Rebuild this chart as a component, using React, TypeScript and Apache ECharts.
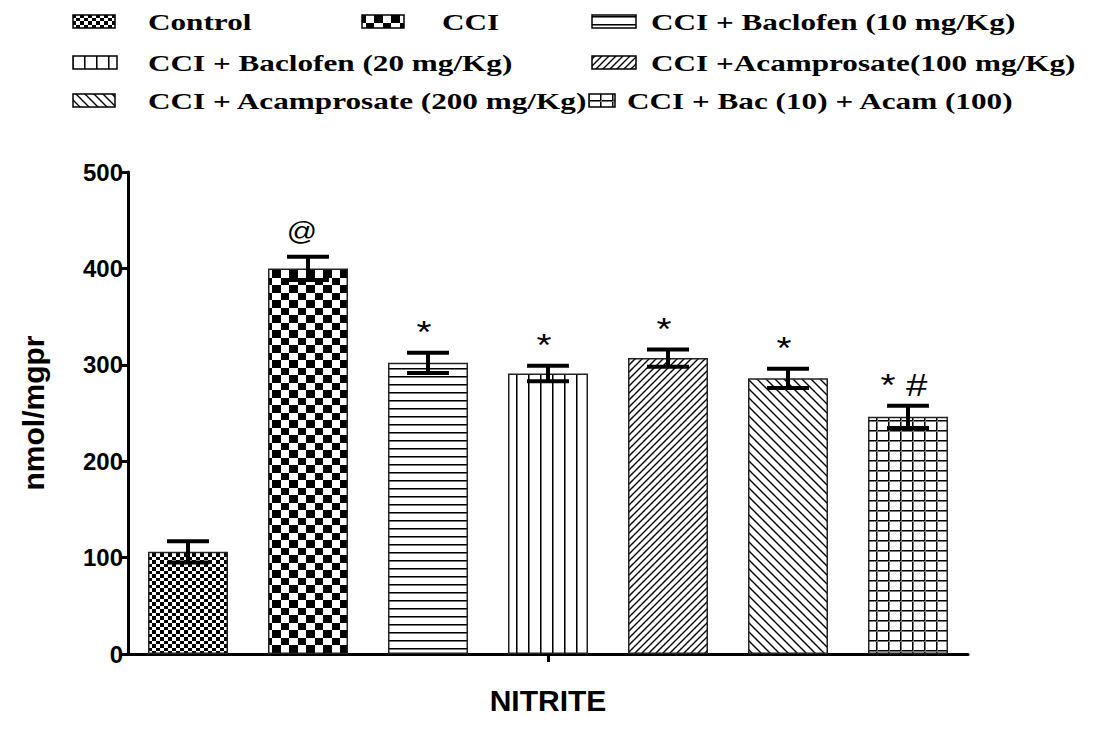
import React, { useEffect, useRef } from "react";
import * as echarts from "echarts";

const groups = [
  "Control",
  "CCI",
  "CCI + Baclofen (10 mg/Kg)",
  "CCI + Baclofen (20 mg/Kg)",
  "CCI +Acamprosate(100 mg/Kg)",
  "CCI + Acamprosate (200 mg/Kg)",
  "CCI + Bac (10) + Acam (100)",
];
const means = [106, 400, 302, 291, 307, 286, 246];
const sems = [11, 12, 10.5, 8, 9, 10, 11.5];
const marks = ["", "@", "*", "*", "*", "*", "* #"];
const patternKinds = ["fineChecker", "checker", "hlines", "vlines", "fdiag", "bdiag", "grid"];
const yTicks = [0, 100, 200, 300, 400, 500];
const xTitle = "NITRITE";
const yTitle = "nmol/mgpr";

// legend layout: [iconX, iconY, iconW, textX, rowCenterY]
const legendPos = [
  [73, 15, 42, 148, 22],
  [362, 15, 42, 442, 22],
  [592, 15, 44, 651, 22],
  [73, 56, 44, 148, 63],
  [592, 56, 44, 651, 63],
  [73, 94, 42, 148, 101],
  [589, 94, 26, 627, 101],
];

function makePattern(kind: string) {
  const c = document.createElement("canvas");
  let w = 8, h = 8;
  if (kind === "fineChecker") { w = 8; h = 7; }
  else if (kind === "checker") { w = 17; h = 15; }
  else if (kind === "hlines") { w = 8; h = 8; }
  else if (kind === "vlines") { w = 12; h = 8; }
  else if (kind === "fdiag") { w = 7; h = 7; }
  else if (kind === "bdiag") { w = 9; h = 9; }
  else if (kind === "grid") { w = 12; h = 10; }
  c.width = w; c.height = h;
  const ctx = c.getContext("2d")!;
  ctx.fillStyle = "#fff";
  ctx.fillRect(0, 0, w, h);
  ctx.fillStyle = "#000";
  ctx.strokeStyle = "#000";
  if (kind === "fineChecker") {
    ctx.fillRect(0, 0, 4, 4);
    ctx.fillRect(4, 4, 4, 3);
  } else if (kind === "checker") {
    ctx.fillRect(0, 0, 9, 8);
    ctx.fillRect(9, 8, 8, 7);
  } else if (kind === "hlines") {
    ctx.fillRect(0, 0, w, 1);
    ctx.fillStyle = "#777";
    ctx.fillRect(0, 1, w, 1);
  } else if (kind === "vlines") {
    ctx.fillRect(0, 0, 1, h);
    ctx.fillStyle = "#777";
    ctx.fillRect(1, 0, 1, h);
  } else if (kind === "fdiag" || kind === "bdiag") {
    ctx.lineWidth = 1.4;
    ctx.beginPath();
    if (kind === "fdiag") {
      ctx.moveTo(-1, h + 1); ctx.lineTo(w + 1, -1);
      ctx.moveTo(-1, 1); ctx.lineTo(1, -1);
      ctx.moveTo(w - 1, h + 1); ctx.lineTo(w + 1, h - 1);
    } else {
      ctx.moveTo(-1, -1); ctx.lineTo(w + 1, h + 1);
      ctx.moveTo(-1, h - 1); ctx.lineTo(1, h + 1);
      ctx.moveTo(w - 1, -1); ctx.lineTo(w + 1, 1);
    }
    ctx.stroke();
  } else if (kind === "grid") {
    ctx.fillRect(0, 0, 1, h);
    ctx.fillRect(0, 0, w, 1);
    ctx.fillStyle = "#777";
    ctx.fillRect(1, 0, 1, h);
    ctx.fillRect(0, 1, w, 1);
  }
  return { image: c, repeat: "repeat", imageWidth: w, imageHeight: h } as any;
}

export default function App() {
  const ref = useRef<HTMLDivElement>(null);
  useEffect(() => {
    const chart = echarts.init(ref.current!, null, { renderer: "svg" });
    const patterns = patternKinds.map(makePattern);

    const barSeries = groups.map((name, i) => ({
      name,
      type: "bar",
      barWidth: 80,
      barGap: "-100%",
      data: groups.map((_, j) => (j === i ? means[i] : "-")),
      itemStyle: { color: patterns[i], borderColor: "#222", borderWidth: 1.5 },
      z: 2,
    }));

    const errSeries = {
      type: "custom",
      z: 5,
      data: means.map((m, i) => [i, m, sems[i]]),
      renderItem: (params: any, api: any) => {
        const x = api.value(0);
        const m = api.value(1);
        const e = api.value(2);
        const top = api.coord([x, m + e]);
        const bot = api.coord([x, m - e]);
        const hw = 21;
        const ls = { stroke: "#000", lineWidth: 4 };
        const mark = marks[params.dataIndex];
        const isAt = mark.indexOf("@") >= 0;
        const children: any[] = [
          { type: "line", shape: { x1: top[0], y1: top[1], x2: bot[0], y2: bot[1] }, style: ls },
          { type: "line", shape: { x1: top[0] - hw, y1: top[1], x2: top[0] + hw, y2: top[1] }, style: ls },
          { type: "line", shape: { x1: bot[0] - hw, y1: bot[1], x2: bot[0] + hw, y2: bot[1] }, style: ls },
        ];
        if (mark) {
          children.push({
            type: "text",
            x: top[0] - (isAt ? 6 : 4),
            y: top[1] - (isAt ? 26 : 21),
            scaleX: isAt ? 1.15 : 1.2,
            style: {
              text: mark,
              fill: "#000",
              font: (isAt ? "26px" : "32px") + ' "Liberation Sans", Arial, sans-serif',
              align: "center",
              verticalAlign: "middle",
            },
          });
        }
        return { type: "group", children };
      },
    };

    const legendGraphics: any[] = [];
    groups.forEach((name, i) => {
      const [ix, iy, iw, tx, cy] = legendPos[i];
      legendGraphics.push({
        type: "rect",
        shape: { x: ix, y: iy, width: iw, height: 13 },
        style: { fill: patterns[i], stroke: "#000", lineWidth: 1.5 },
      });
      legendGraphics.push({
        type: "text",
        x: tx,
        y: cy,
        scaleX: 1.3,
        style: {
          text: name,
          fill: "#000",
          font: 'bold 24px "Liberation Serif", "Times New Roman", serif',
          verticalAlign: "middle",
          align: "left",
        },
      });
    });

    chart.setOption({
      animation: false,
      backgroundColor: "#fff",
      grid: { left: 128, right: 132, top: 172, bottom: 86, containLabel: false },
      graphic: legendGraphics,
      xAxis: {
        type: "category",
        data: groups,
        axisLabel: { show: false },
        axisLine: { lineStyle: { color: "#000", width: 3 } },
        axisTick: {
          show: true,
          alignWithLabel: true,
          interval: (idx: number) => idx === 3,
          length: 8,
          lineStyle: { color: "#000", width: 3 },
        },
        name: xTitle,
        nameLocation: "middle",
        nameGap: 31,
        nameTextStyle: { color: "#000", fontWeight: "bold", fontSize: 30, fontFamily: '"Liberation Sans", Arial, sans-serif' },
      },
      yAxis: {
        type: "value",
        min: yTicks[0],
        max: yTicks[yTicks.length - 1],
        interval: 100,
        axisLine: { show: true, lineStyle: { color: "#000", width: 3 } },
        axisTick: { show: true, length: 8, lineStyle: { color: "#000", width: 3 } },
        axisLabel: { color: "#000", fontWeight: "bold", fontSize: 24, fontFamily: '"Liberation Sans", Arial, sans-serif', margin: 5 },
        splitLine: { show: false },
        name: yTitle,
        nameLocation: "middle",
        nameGap: 80,
        nameRotate: 90,
        nameTextStyle: { color: "#000", fontWeight: "bold", fontSize: 30, fontFamily: '"Liberation Sans", Arial, sans-serif' },
      },
      series: [...barSeries, errSeries],
    });
    return () => chart.dispose();
  }, []);
  return (
    <div
      ref={ref}
      style={{ position: "absolute", left: 0, top: 0, width: 1100, height: 740, background: "#fff" }}
    />
  );
}
